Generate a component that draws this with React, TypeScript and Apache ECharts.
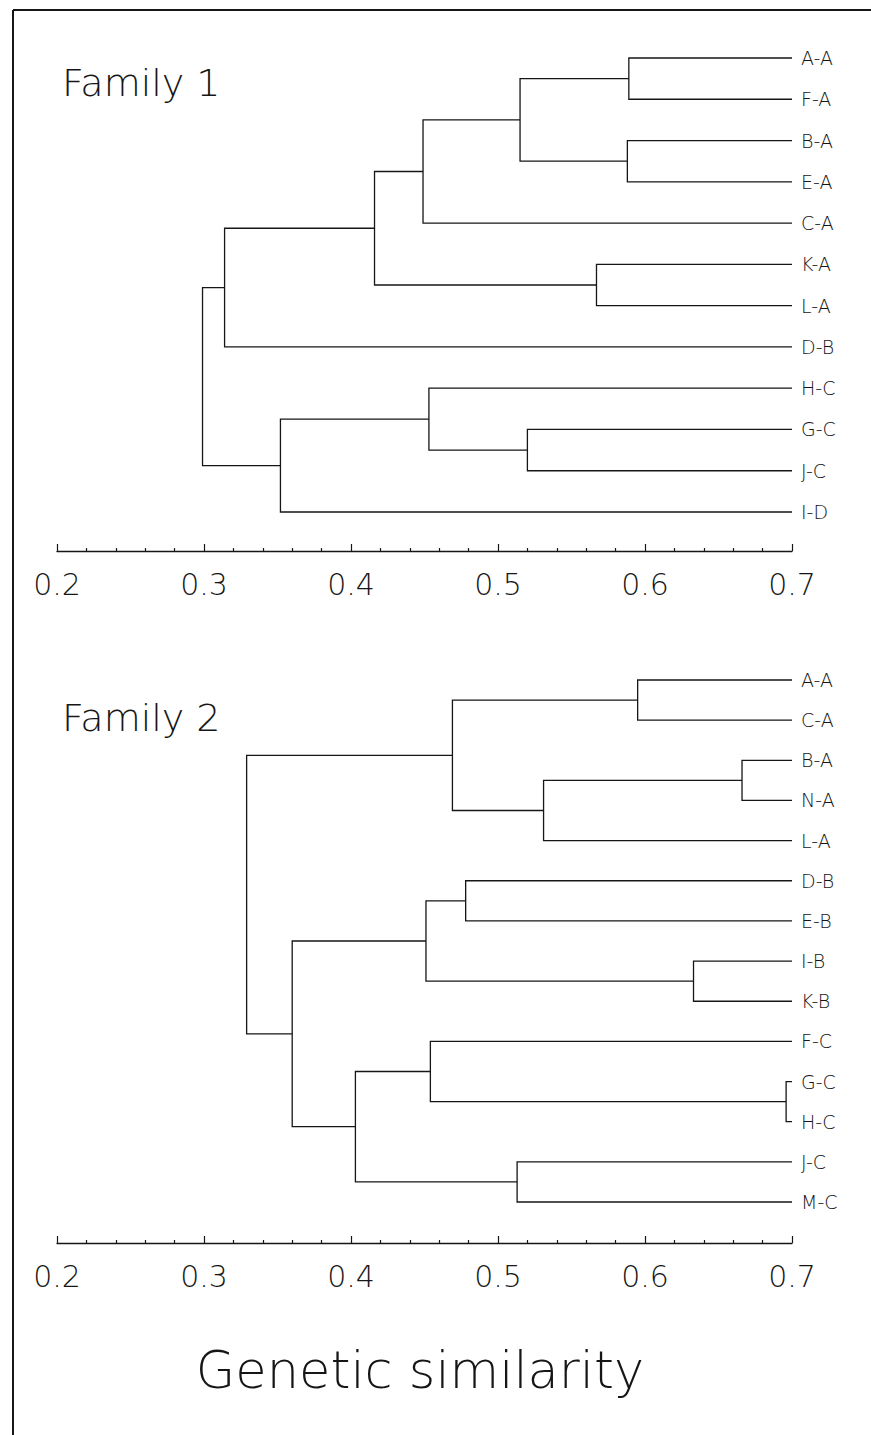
import React, { useEffect, useRef } from "react";
import * as echarts from "echarts";

// ---- data ----
const X_MIN = 0.2;
const X_MAX = 0.7;
const X_STEP = 0.1;

const leaves1 = ["A-A", "F-A", "B-A", "E-A", "C-A", "K-A", "L-A", "D-B", "H-C", "G-C", "J-C", "I-D"];
// merges (linkage style: index >= leaves.length refers to an earlier merge)
const mergeA1 = [0, 2, 12, 14, 5, 15, 17, 9, 8, 20, 18];
const mergeB1 = [1, 3, 13, 4, 6, 16, 7, 10, 19, 11, 21];
const mergeH1 = [0.589, 0.588, 0.515, 0.449, 0.567, 0.416, 0.314, 0.52, 0.453, 0.352, 0.299];

const leaves2 = ["A-A", "C-A", "B-A", "N-A", "L-A", "D-B", "E-B", "I-B", "K-B", "F-C", "G-C", "H-C", "J-C", "M-C"];
const mergeA2 = [0, 2, 15, 14, 5, 7, 18, 10, 9, 12, 22, 20, 17];
const mergeB2 = [1, 3, 4, 16, 6, 8, 19, 11, 21, 13, 23, 24, 25];
const mergeH2 = [0.595, 0.666, 0.531, 0.469, 0.478, 0.633, 0.451, 0.696, 0.454, 0.513, 0.403, 0.36, 0.329];

const panelTitles = ["Family 1", "Family 2"];
const axisTitle = "Genetic similarity";

// ---- helpers ----
function buildRows(leaves: string[], A: number[], B: number[], H: number[]) {
  const n = leaves.length;
  const ys: number[] = leaves.map((_, i) => i);
  const xs: number[] = leaves.map(() => X_MAX);
  const rows: number[][] = [];
  for (let k = 0; k < A.length; k++) {
    const a = A[k];
    const b = B[k];
    const ya = ys[a];
    const yb = ys[b];
    rows.push([H[k], ya, yb, xs[a], xs[b]]);
    ys[n + k] = (ya + yb) / 2;
    xs[n + k] = H[k];
  }
  return rows;
}

const FONT = "DejaVu Sans";
const INK = "#161616";

export default function App() {
  const ref = useRef<HTMLDivElement>(null);
  useEffect(() => {
    if (!ref.current) return;
    const chart = echarts.init(ref.current, undefined, { renderer: "svg" });
    const panels = [
      { leaves: leaves1, rows: buildRows(leaves1, mergeA1, mergeB1, mergeH1), top: 58, height: 454, offset: 39 },
      { leaves: leaves2, rows: buildRows(leaves2, mergeA2, mergeB2, mergeH2), top: 680, height: 522, offset: 41 },
    ];
    const renderItem = (params: any, api: any) => {
      const h = api.value(0);
      const ya = api.value(1);
      const yb = api.value(2);
      const xa = api.value(3);
      const xb = api.value(4);
      const pts = [api.coord([xa, ya]), api.coord([h, ya]), api.coord([h, yb]), api.coord([xb, yb])];
      return {
        type: "polyline",
        shape: { points: pts },
        style: { stroke: INK, lineWidth: 1.3, fill: "none" },
      };
    };
    chart.setOption({
      animation: false,
      backgroundColor: "#ffffff",
      grid: panels.map((p) => ({ left: 57, width: 735, top: p.top, height: p.height })),
      xAxis: panels.map((p, i) => ({
        type: "value",
        gridIndex: i,
        min: X_MIN,
        max: X_MAX,
        interval: X_STEP,
        position: "bottom",
        offset: p.offset,
        splitLine: { show: false },
        axisLine: { show: true, onZero: false, lineStyle: { color: INK, width: 1.3 } },
        axisTick: { show: true, inside: true, length: 7, lineStyle: { color: INK, width: 1.2 } },
        minorTick: { show: true, splitNumber: 5, length: 3, lineStyle: { color: INK, width: 1.2 } },
        axisLabel: {
          show: true,
          margin: 18,
          fontSize: 30,
          fontFamily: FONT,
          fontWeight: 200,
          color: INK,
          formatter: (v: number) => v.toFixed(1),
        },
      })),
      yAxis: panels.map((p, i) => ({
        type: "value",
        gridIndex: i,
        min: 0,
        max: p.leaves.length - 1,
        interval: 1,
        inverse: true,
        position: "right",
        splitLine: { show: false },
        axisLine: { show: false, onZero: false },
        axisTick: { show: false },
        axisLabel: {
          show: true,
          margin: 9,
          fontSize: 19,
          fontFamily: FONT,
          fontWeight: 200,
          color: INK,
          formatter: (v: number) => p.leaves[Math.round(v)] ?? "",
        },
      })),
      series: panels.map((p, i) => ({
        type: "custom",
        xAxisIndex: i,
        yAxisIndex: i,
        clip: false,
        renderItem,
        encode: { x: [0, 3, 4], y: [1, 2] },
        data: p.rows,
      })),
      graphic: [
        { type: "line", shape: { x1: 13, y1: 10, x2: 13, y2: 1435 }, style: { stroke: INK, lineWidth: 2 } },
        { type: "line", shape: { x1: 13, y1: 10, x2: 871, y2: 10 }, style: { stroke: INK, lineWidth: 2 } },
        {
          type: "text",
          x: 62,
          y: 83,
          style: { text: panelTitles[0], fontSize: 38, fontFamily: FONT, fontWeight: 200, fill: INK, verticalAlign: "middle", align: "left" },
        },
        {
          type: "text",
          x: 62,
          y: 718,
          style: { text: panelTitles[1], fontSize: 38, fontFamily: FONT, fontWeight: 200, fill: INK, verticalAlign: "middle", align: "left" },
        },
        {
          type: "text",
          x: 420,
          y: 1370,
          style: { text: axisTitle, fontSize: 51, fontFamily: FONT, fontWeight: 200, fill: INK, verticalAlign: "middle", align: "center" },
        },
      ],
    });
    return () => chart.dispose();
  }, []);
  return <div ref={ref} style={{ position: "absolute", left: 0, top: 0, width: 871, height: 1435 }} />;
}
